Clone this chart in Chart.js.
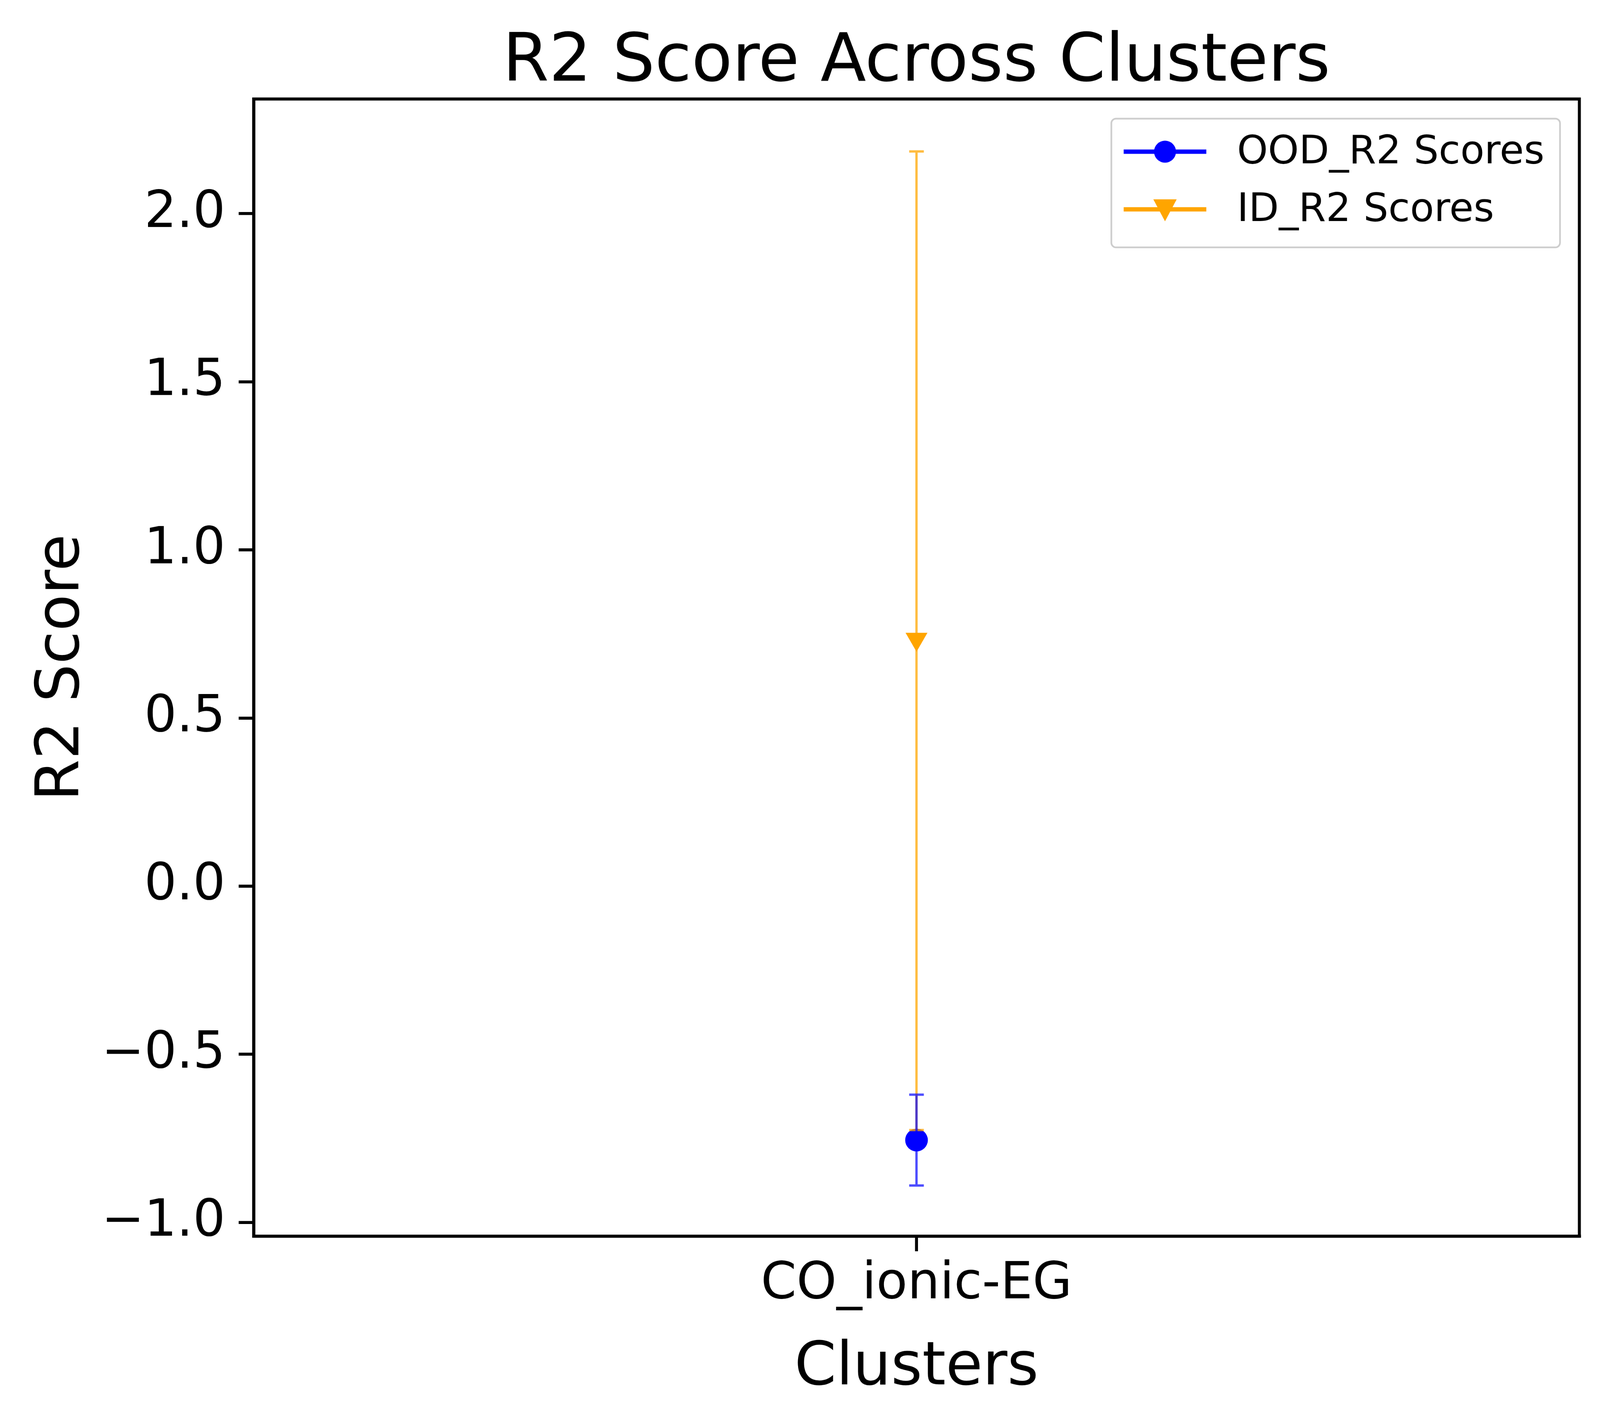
<!DOCTYPE html>
<html><head><meta charset="utf-8">
<script src="https://cdn.jsdelivr.net/npm/chart.js@4"></script>
<style>html,body{margin:0;padding:0;background:#fff;overflow:hidden}#wrap{position:relative;width:100vw;height:100vh}</style>
</head><body>
<div id="wrap"><canvas id="c"></canvas></div>
<script>
const categories = ["CO_ionic-EG"];
const oodMean = [-0.755];
const oodLow = [-0.89];
const oodHigh = [-0.62];
const idMean = [0.735];
const idLow = [-0.725];
const idHigh = [2.185];
const yTicks = [-1.0, -0.5, 0.0, 0.5, 1.0, 1.5, 2.0];
const FONT = "'DejaVu Sans', sans-serif";
const k = window.innerWidth / 4800;
const S = v => v * k;

const extras = {
  id: 'extras',
  afterDatasetsDraw(chart) {
    const ctx = chart.ctx, x = chart.scales.x, y = chart.scales.y;
    const bars = [[idLow, idHigh, 'rgba(255,165,0,0.75)'], [oodLow, oodHigh, 'rgba(0,0,255,0.7)']];
    ctx.save();
    bars.forEach(([lo, hi, col]) => {
      categories.forEach((c, i) => {
        const px = x.getPixelForValue(i);
        const y1 = y.getPixelForValue(lo[i]), y2 = y.getPixelForValue(hi[i]);
        ctx.strokeStyle = col; ctx.lineWidth = S(7);
        ctx.beginPath(); ctx.moveTo(px, y1); ctx.lineTo(px, y2);
        ctx.moveTo(px - S(22), y1); ctx.lineTo(px + S(22), y1);
        ctx.moveTo(px - S(22), y2); ctx.lineTo(px + S(22), y2); ctx.stroke();
      });
    });
    ctx.restore();
  },
  afterDraw(chart) {
    const ctx = chart.ctx, a = chart.chartArea;
    ctx.save();
    ctx.strokeStyle = '#000'; ctx.lineWidth = S(9);
    ctx.strokeRect(a.left, a.top, a.right - a.left, a.bottom - a.top);
    ctx.fillStyle = '#000'; ctx.textAlign = 'center'; ctx.textBaseline = 'middle';
    ctx.font = `${S(200)}px ${FONT}`;
    ctx.fillText('R2 Score Across Clusters', (a.left + a.right) / 2, S(190));
    // legend
    ctx.fillStyle = 'rgba(255,255,255,0.8)'; ctx.strokeStyle = '#ccc'; ctx.lineWidth = S(5);
    ctx.beginPath(); ctx.roundRect(S(3334), S(356), S(1346), S(386), S(14)); ctx.fill(); ctx.stroke();
    const items = [['OOD_R2 Scores', 'blue', 'circle', 455], ['ID_R2 Scores', 'orange', 'tri', 628]];
    items.forEach(([t, col, shape, ly]) => {
      ctx.strokeStyle = col; ctx.lineWidth = S(13);
      ctx.beginPath(); ctx.moveTo(S(3371), S(ly)); ctx.lineTo(S(3619), S(ly)); ctx.stroke();
      ctx.fillStyle = col;
      ctx.beginPath();
      if (shape === 'circle') ctx.arc(S(3495), S(ly), S(33), 0, Math.PI * 2);
      else { ctx.moveTo(S(3460), S(ly - 30)); ctx.lineTo(S(3530), S(ly - 30)); ctx.lineTo(S(3495), S(ly + 36)); ctx.closePath(); }
      ctx.fill();
      ctx.fillStyle = '#000'; ctx.textAlign = 'left'; ctx.font = `${S(118)}px ${FONT}`;
      ctx.fillText(t, S(3711), S(ly + 4));
    });
    ctx.restore();
  }
};

new Chart(document.getElementById('c'), {
  type: 'line',
  data: {
    labels: categories,
    datasets: [
      { label: 'OOD_R2 Scores', data: oodMean, showLine: false, pointStyle: 'circle', pointRadius: S(34),
        backgroundColor: 'blue', borderColor: 'blue', pointBorderWidth: 0 },
      { label: 'ID_R2 Scores', data: idMean, showLine: false, pointStyle: 'triangle', rotation: 180, pointRadius: S(38),
        backgroundColor: 'orange', borderColor: 'orange', pointBorderWidth: 0 }
    ]
  },
  plugins: [extras],
  options: {
    responsive: true, maintainAspectRatio: false, devicePixelRatio: 1 / k, animation: false,
    layout: { padding: { top: S(297), right: S(62), left: 0, bottom: 0 } },
    plugins: { legend: { display: false }, tooltip: { enabled: false }, title: { display: false } },
    scales: {
      x: {
        offset: true,
        grid: { drawOnChartArea: false, tickLength: S(45), color: '#000', lineWidth: S(9) },
        border: { color: '#000', width: S(9) },
        ticks: { color: '#000', font: { family: FONT, size: S(153) }, padding: S(10) },
        title: { display: true, text: 'Clusters', color: '#000', font: { family: FONT, size: S(180) }, padding: { top: S(0) } },
        afterFit(s) { s.height = S(510); }
      },
      y: {
        min: -1.041, max: 2.341,
        afterBuildTicks(s) { s.ticks = yTicks.map(v => ({ value: v })); },
        grid: { drawOnChartArea: false, tickLength: S(45), color: '#000', lineWidth: S(9) },
        border: { color: '#000', width: S(9) },
        ticks: { color: '#000', font: { family: FONT, size: S(153) }, padding: S(40),
          callback: v => (v < 0 ? '\u2212' : '') + Math.abs(v).toFixed(1) },
        title: { display: true, text: 'R2 Score', color: '#000', font: { family: FONT, size: S(180) }, padding: { top: S(80), bottom: S(0) } },
        afterFit(s) { s.width = S(761); }
      }
    }
  }
});
</script>
</body></html>
